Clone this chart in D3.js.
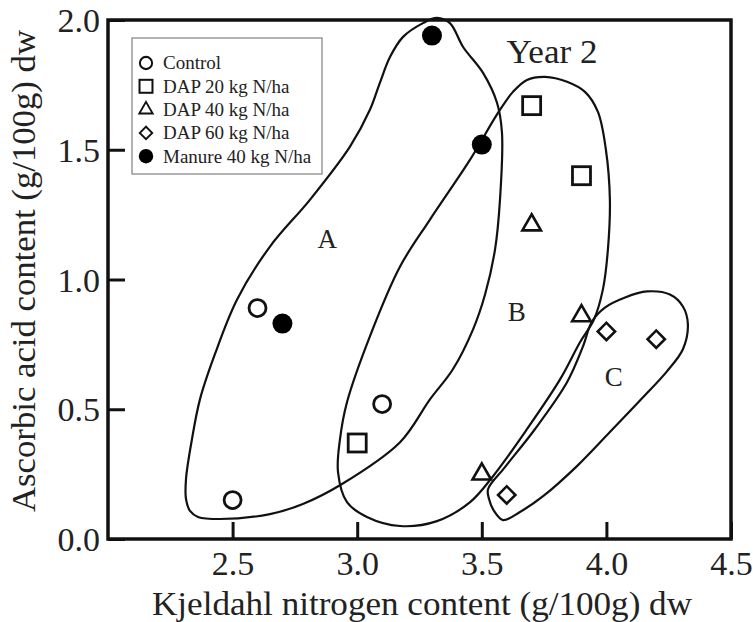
<!DOCTYPE html>
<html><head><meta charset="utf-8">
<script src="https://cdn.jsdelivr.net/npm/d3@7"></script>
<style>body{margin:0;background:#fff}svg{display:block}text{font-family:"Liberation Serif","Times New Roman",serif;fill:#222}</style>
</head><body><svg id="c" width="753" height="622"></svg>
<script>
const seriesNames = ["Control","DAP 20 kg N/ha","DAP 40 kg N/ha","DAP 60 kg N/ha","Manure 40 kg N/ha"];
const controlX = [2.5, 2.6, 3.1],  controlY = [0.15, 0.89, 0.52];
const dap20X   = [3.0, 3.7, 3.9],  dap20Y   = [0.37, 1.67, 1.40];
const dap40X   = [3.5, 3.7, 3.9],  dap40Y   = [0.25, 1.21, 0.86];
const dap60X   = [3.6, 4.0, 4.2],  dap60Y   = [0.17, 0.80, 0.77];
const manureX  = [2.7, 3.3, 3.5],  manureY  = [0.83, 1.94, 1.52];
const xTicks = [2.5, 3.0, 3.5, 4.0, 4.5];
const yTicks = [0.0, 0.5, 1.0, 1.5, 2.0];
const groupLabels = ["A","B","C"];
const groupLabelX = [2.88, 3.64, 4.03];
const groupLabelY = [1.12, 0.84, 0.59];
// enclosure outlines (data coordinates)
const hullA = [[2.337,0.385],[2.313,0.231],[2.313,0.154],[2.329,0.108],[2.361,0.085],[2.449,0.077],[2.650,0.096],[2.782,0.135],[2.939,0.212],[3.172,0.373],[3.292,0.538],[3.384,0.654],[3.465,0.808],[3.513,0.942],[3.553,1.115],[3.573,1.308],[3.581,1.565],[3.561,1.681],[3.505,1.796],[3.425,1.896],[3.372,1.988],[3.320,2.008],[3.264,1.988],[3.184,1.935],[3.132,1.858],[3.091,1.758],[3.051,1.654],[2.971,1.512],[2.811,1.308],[2.650,1.127],[2.518,0.923],[2.429,0.712],[2.369,0.538]];
const hullB = [[3.681,1.769],[3.754,1.781],[3.842,1.762],[3.914,1.723],[3.966,1.646],[3.998,1.500],[4.014,1.308],[4.006,1.115],[3.986,0.962],[3.950,0.846],[3.894,0.758],[3.814,0.615],[3.681,0.423],[3.545,0.242],[3.453,0.142],[3.320,0.069],[3.172,0.050],[3.039,0.085],[2.959,0.142],[2.923,0.258],[2.931,0.385],[2.959,0.527],[3.051,0.781],[3.172,1.050],[3.292,1.231],[3.453,1.462],[3.565,1.642],[3.625,1.723]];
const hullC = [[3.525,0.192],[3.593,0.277],[3.713,0.423],[3.842,0.604],[3.906,0.742],[3.942,0.838],[3.994,0.892],[4.075,0.931],[4.163,0.954],[4.255,0.942],[4.307,0.896],[4.327,0.827],[4.307,0.731],[4.243,0.646],[4.147,0.546],[4.014,0.412],[3.882,0.281],[3.746,0.165],[3.653,0.104],[3.585,0.073],[3.549,0.108],[3.529,0.154]];

const svg = d3.select("#c");
const L=108, R=731, T=20, B=539;
const x = d3.scaleLinear().domain([2.0,4.5]).range([L,R]);
const y = d3.scaleLinear().domain([0,2.0]).range([B,T]);

// hulls
const line = d3.line().x(d=>x(d[0])).y(d=>y(d[1])).curve(d3.curveCatmullRomClosed.alpha(0.5));
[hullA,hullB,hullC].forEach(h=>{
  svg.append("path").attr("d",line(h)).attr("fill","none").attr("stroke","#111").attr("stroke-width",2.2);
});

// axes (inward ticks)
const xAxis = d3.axisBottom(x).tickValues(xTicks).tickSize(-17).tickFormat(d3.format(".1f")).tickPadding(14);
const yAxis = d3.axisLeft(y).tickValues(yTicks).tickSize(-17).tickFormat(d3.format(".1f")).tickPadding(24);
const gx = svg.append("g").attr("transform",`translate(0,${B})`).call(xAxis);
const gy = svg.append("g").attr("transform",`translate(${L},0)`).call(yAxis);
[gx,gy].forEach(g=>{
  g.select(".domain").remove();
  g.selectAll(".tick line").attr("stroke","#111").attr("stroke-width",3);
  g.selectAll(".tick text").attr("font-family","Liberation Serif, serif").attr("font-size",34).attr("fill","#222");
});
gx.selectAll(".tick text").attr("dy","0.71em").attr("y",12);
gy.selectAll(".tick text").attr("x",-8).attr("dy","0.34em");
svg.append("rect").attr("x",L).attr("y",T).attr("width",R-L).attr("height",B-T)
  .attr("fill","none").attr("stroke","#111").attr("stroke-width",3.5);

// markers
const sym = (type,size)=>d3.symbol().type(type).size(size)();
function drawSet(xs,ys,kind){
  xs.forEach((xv,i)=>{
    const g = svg.append("g").attr("transform",`translate(${x(xv)},${y(ys[i])})`);
    drawMarker(g,kind,1);
  });
}
function drawMarker(g,kind,s){
  if(kind===0) g.append("circle").attr("r",8.5*s).attr("fill","#fff").attr("stroke","#111").attr("stroke-width",2.8*s);
  if(kind===1) g.append("rect").attr("x",-9*s).attr("y",-9*s).attr("width",18*s).attr("height",18*s).attr("fill","#fff").attr("stroke","#111").attr("stroke-width",2.8*s);
  if(kind===2) g.append("path").attr("d",sym(d3.symbolTriangle,150*s*s)).attr("fill","#fff").attr("stroke","#111").attr("stroke-width",2.6*s).attr("stroke-linejoin","miter");
  if(kind===3) g.append("path").attr("d",sym(d3.symbolSquare,150*s*s)).attr("transform","rotate(45)").attr("fill","#fff").attr("stroke","#111").attr("stroke-width",2.6*s);
  if(kind===4) g.append("circle").attr("r",10*s).attr("fill","#000");
}
drawSet(controlX,controlY,0);
drawSet(dap20X,dap20Y,1);
drawSet(dap40X,dap40Y,2);
drawSet(dap60X,dap60Y,3);
drawSet(manureX,manureY,4);

// group labels
groupLabels.forEach((t,i)=>{
  svg.append("text").attr("x",x(groupLabelX[i])).attr("y",y(groupLabelY[i])).attr("text-anchor","middle")
    .attr("font-size",27).text(t);
});
svg.append("text").attr("x",552).attr("y",63).attr("text-anchor","middle").attr("font-size",34)
  .attr("textLength",91).attr("lengthAdjust","spacingAndGlyphs").text("Year 2");

// legend
svg.append("rect").attr("x",132).attr("y",38).attr("width",190).attr("height",136)
  .attr("fill","#fff").attr("stroke","#999").attr("stroke-width",1.5);
seriesNames.forEach((n,i)=>{
  const cy = 63 + i*23.3;
  const g = svg.append("g").attr("transform",`translate(146,${cy})`);
  drawMarker(g,i,0.72);
  svg.append("text").attr("x",163).attr("y",cy).attr("dy","0.34em").attr("font-size",19).text(n);
});

// axis titles
svg.append("text").attr("x",422).attr("y",615).attr("text-anchor","middle").attr("font-size",33)
  .attr("textLength",540).attr("lengthAdjust","spacingAndGlyphs").text("Kjeldahl nitrogen content (g/100g) dw");
svg.append("text").attr("transform","translate(35,271) rotate(-90)").attr("text-anchor","middle").attr("font-size",33)
  .attr("textLength",482).attr("lengthAdjust","spacingAndGlyphs").text("Ascorbic acid content (g/100g) dw");
</script></body></html>
